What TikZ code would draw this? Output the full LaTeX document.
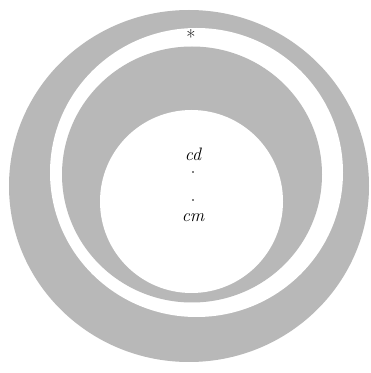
\documentclass[tikz,border=0pt]{standalone}
\begin{document}
\begin{tikzpicture}[x=1pt,y=1pt,
  shade/.style={fill=black!28,draw=none},
  hole/.style={fill=white,draw=none},
  lbl/.style={inner sep=0pt,font=\fontsize{18}{20}\selectfont\itshape},
  pt/.style={circle,fill=black,inner sep=0pt,minimum size=1.8pt}]
\fill[white] (0,0) rectangle (371,373);
\useasboundingbox (0,0) rectangle (371,373);
\path[shade] (189,187) ellipse [x radius=180,y radius=176];
\path[hole] (196.5,200.5) ellipse [x radius=146.5,y radius=144.5];
\path[shade] (192,198.5) ellipse [x radius=130,y radius=128];
\path[hole] (191.5,171.5) circle [radius=91.5];
\node[inner sep=0pt,font=\fontsize{20}{22}\selectfont] (star) at (191,336) {*};
\node[lbl] (cd) at (193,219) {cd};
\node[pt] (pcd) at (193,201) {};
\node[pt] (pcm) at (193,173) {};
\node[lbl] (cm) at (193,155) {cm};
\end{tikzpicture}
\end{document}
